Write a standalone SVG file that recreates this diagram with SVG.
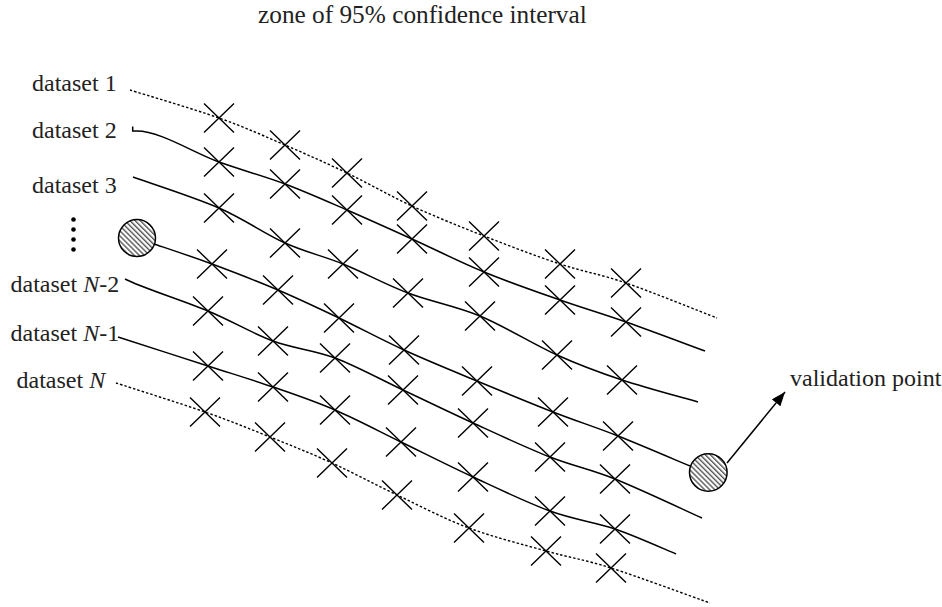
<svg xmlns="http://www.w3.org/2000/svg" xmlns:xlink="http://www.w3.org/1999/xlink" width="942" height="607" viewBox="0 0 942 607">
<style>
  text { font-family: "Liberation Serif", "Times New Roman", serif; font-size: 24px; fill: #222; }
  .curve { fill: none; stroke: #000; stroke-width: 1.5; }
  .dotted { fill: none; stroke: #000; stroke-width: 1.4; stroke-dasharray: 2.5 2; }
  .cross { fill: none; stroke: #000; stroke-width: 1.4; }
  .hatch { fill: url(#stripes); stroke: #000; stroke-width: 1.5; }
</style>
<defs>
  <pattern id="stripes" patternUnits="userSpaceOnUse" width="3.6" height="3.6" patternTransform="rotate(-45)">
    <rect width="3.6" height="3.6" fill="#fff"/>
    <rect width="1.4" height="3.6" fill="#555"/>
  </pattern>
  <path id="cross" class="cross" d="M-15,-14.5 L15,14.5 M15,-14.5 L-15,14.5"/>
  <marker id="arrow" markerWidth="16" markerHeight="12" refX="14" refY="5.5" orient="auto" markerUnits="userSpaceOnUse">
    <path d="M0,0 L14,5.5 L0,11 Z" fill="#000"/>
  </marker>
</defs>
<rect width="942" height="607" fill="#fff"/>

<g id="labels">
  <text id="title" x="258" y="23" style="font-size:25.3px">zone of 95% confidence interval</text>
  <text id="label-d1" x="32" y="91">dataset 1</text>
  <text id="label-d2" x="32" y="138">dataset 2</text>
  <text id="label-d3" x="32" y="193">dataset 3</text>
  <text id="label-dN2" x="10.5" y="292">dataset <tspan font-style="italic">N</tspan>-2</text>
  <text id="label-dN1" x="10.5" y="341">dataset <tspan font-style="italic">N</tspan>-1</text>
  <text id="label-dN" x="16.5" y="388">dataset <tspan font-style="italic">N</tspan></text>
  <text id="label-validation" x="790" y="386">validation point</text>
</g>

<g id="ellipsis" fill="#000">
  <circle cx="73.5" cy="219.5" r="2.3"/>
  <circle cx="73.5" cy="229.5" r="2.3"/>
  <circle cx="73.5" cy="239.5" r="2.3"/>
  <circle cx="73.5" cy="249.5" r="2.3"/>
</g>

<g id="connectors">
  <path id="curve-d1" class="dotted" d="M130,90 C144.8,94.7 193.2,108.8 219,118 C244.8,127.2 263.7,135.8 285,145 C306.3,154.2 325.8,162.8 347,173 C368.2,183.2 389.2,195.5 412,206 C434.8,216.5 459.3,226.3 484,236 C508.7,245.7 536.3,256.2 560,264 C583.7,271.8 599.8,274 626,283 C652.2,292 701.8,312.2 717,318"/>
  <path id="curve-d2" class="curve" d="M132.7,126.5 L132.7,131 L137,131 C160,131 194.3,153.2 219,162 C243.7,170.8 263.7,176 285,184 C306.3,192 325.8,200.8 347,210 C368.2,219.2 389.2,228.7 412,239 C434.8,249.3 459.3,261.8 484,272 C508.7,282.2 536.3,291.7 560,300 C583.7,308.3 601.8,313.5 626,322 C650.2,330.5 691.8,346.2 705,351"/>
  <path id="curve-d3" class="curve" d="M133,177 C147.3,182.2 193.7,197 219,208 C244.3,219 264.3,233.7 285,243 C305.7,252.3 322.5,255.7 343,264 C363.5,272.3 385.2,284.3 408,293 C430.8,301.7 455.2,305.7 480,316 C504.8,326.3 533.3,344.3 557,355 C580.7,365.7 598.5,372.2 622,380 C645.5,387.8 685.3,398.3 698,402"/>
  <path id="curve-validation" class="curve" d="M154,244 C163.7,247.3 191.3,256.3 212,264 C232.7,271.7 256.8,281 278,290 C299.2,299 318,308 339,318 C360,328 381,339.5 404,350 C427,360.5 452.2,370.7 477,381 C501.8,391.3 529.5,402.8 553,412 C576.5,421.2 595.2,427 618,436 C640.8,445 678,461 690,466"/>
  <path id="curve-dN2" class="curve" d="M125,279 C140,287 183.3,300.7 208,311 C232.7,321.3 251.8,333.2 273,341 C294.2,348.8 313.3,349.8 335,358 C356.7,366.2 380,379.2 403,390 C426,400.8 448.5,411.8 473,423 C497.5,434.2 526.3,447.7 550,457 C573.7,466.3 589.7,468.8 615,479 C640.3,489.2 687.5,511.5 702,518"/>
  <path id="curve-dN1" class="curve" d="M118,337 C133,341.8 182.2,357.7 208,366 C233.8,374.3 251.8,379.7 273,387 C294.2,394.3 313.7,400.8 335,410 C356.3,419.2 378,430.8 401,442 C424,453.2 448.2,465.5 473,477 C497.8,488.5 526.3,502.3 550,511 C573.7,519.7 594,521.8 615,529 C636,536.2 665.8,549.8 676,554"/>
  <path id="curve-dN" class="dotted" d="M116,383 C130.8,387.8 179.3,403 205,412 C230.7,421 248.8,428.5 270,437 C291.2,445.5 310.8,453.3 332,463 C353.2,472.7 374.2,484.2 397,495 C419.8,505.8 444.2,518.7 469,528 C493.8,537.3 522.3,544.3 546,551 C569.7,557.7 583.7,559.3 611,568 C638.3,576.7 693.5,597.2 710,603"/>
  <line id="arrow-validation" x1="727" y1="463" x2="785" y2="392" stroke="#000" stroke-width="1.5" marker-end="url(#arrow)"/>
</g>

<g id="node-start-circle"><circle class="hatch" cx="137" cy="238" r="18.5"/></g>
<g id="node-validation-point"><circle class="hatch" cx="708.3" cy="472.5" r="18.8"/></g>

<g id="crosses">
  <g id="crosses-d1">
    <use href="#cross" x="219" y="118"/><use href="#cross" x="285" y="145"/><use href="#cross" x="347" y="173"/><use href="#cross" x="412" y="206"/><use href="#cross" x="484" y="236"/><use href="#cross" x="560" y="264"/><use href="#cross" x="626" y="283"/>
  </g>
  <g id="crosses-d2">
    <use href="#cross" x="219" y="162"/><use href="#cross" x="285" y="184"/><use href="#cross" x="347" y="210"/><use href="#cross" x="412" y="239"/><use href="#cross" x="484" y="272"/><use href="#cross" x="560" y="300"/><use href="#cross" x="626" y="322"/>
  </g>
  <g id="crosses-d3">
    <use href="#cross" x="219" y="208"/><use href="#cross" x="285" y="243"/><use href="#cross" x="343" y="264"/><use href="#cross" x="408" y="293"/><use href="#cross" x="480" y="316"/><use href="#cross" x="557" y="355"/><use href="#cross" x="622" y="380"/>
  </g>
  <g id="crosses-validation">
    <use href="#cross" x="212" y="264"/><use href="#cross" x="278" y="290"/><use href="#cross" x="339" y="318"/><use href="#cross" x="404" y="350"/><use href="#cross" x="477" y="381"/><use href="#cross" x="553" y="412"/><use href="#cross" x="618" y="436"/>
  </g>
  <g id="crosses-dN2">
    <use href="#cross" x="208" y="311"/><use href="#cross" x="273" y="341"/><use href="#cross" x="335" y="358"/><use href="#cross" x="403" y="390"/><use href="#cross" x="473" y="423"/><use href="#cross" x="550" y="457"/><use href="#cross" x="615" y="479"/>
  </g>
  <g id="crosses-dN1">
    <use href="#cross" x="208" y="366"/><use href="#cross" x="273" y="387"/><use href="#cross" x="335" y="410"/><use href="#cross" x="401" y="442"/><use href="#cross" x="473" y="477"/><use href="#cross" x="550" y="511"/><use href="#cross" x="615" y="529"/>
  </g>
  <g id="crosses-dN">
    <use href="#cross" x="205" y="412"/><use href="#cross" x="270" y="437"/><use href="#cross" x="332" y="463"/><use href="#cross" x="397" y="495"/><use href="#cross" x="469" y="528"/><use href="#cross" x="546" y="551"/><use href="#cross" x="611" y="568"/>
  </g>
</g>
</svg>
